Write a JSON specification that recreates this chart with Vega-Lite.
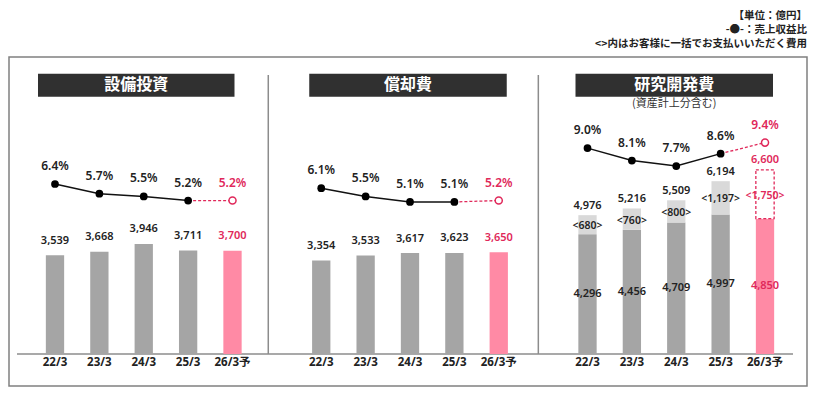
{
  "$schema": "https://vega.github.io/schema/vega-lite/v6.json",
  "width": 798,
  "height": 329,
  "autosize": {"type": "none"},
  "padding": {"left": 9, "top": 57, "right": 10, "bottom": 9},
  "background": "white",
  "config": {
    "view": {"stroke": "#808080", "strokeWidth": 1.5},
    "text": {"font": "'Noto Sans', 'Noto Sans CJK JP', sans-serif"}
  },
  "title": {
    "text": ["【単位：億円】", "-●-：売上収益比", "<>内はお客様に一括でお支払いいただく費用"],
    "anchor": "end",
    "align": "right",
    "frame": "group",
    "font": "'Noto Sans CJK JP', sans-serif",
    "fontSize": 10.5,
    "fontWeight": "bold",
    "color": "#222222",
    "lineHeight": 14,
    "offset": 8
  },
  "datasets": {
    "bars": [
      {"panel": "A", "year": "22/3", "key": "A|22/3", "base": 3539, "total": 3539, "pct": 0.064, "fc": false},
      {"panel": "A", "year": "23/3", "key": "A|23/3", "base": 3668, "total": 3668, "pct": 0.057, "fc": false},
      {"panel": "A", "year": "24/3", "key": "A|24/3", "base": 3946, "total": 3946, "pct": 0.055, "fc": false},
      {"panel": "A", "year": "25/3", "key": "A|25/3", "base": 3711, "total": 3711, "pct": 0.052, "fc": false},
      {"panel": "A", "year": "26/3予", "key": "A|26/3予", "base": 3700, "total": 3700, "pct": 0.052, "fc": true},
      {"panel": "B", "year": "22/3", "key": "B|22/3", "base": 3354, "total": 3354, "pct": 0.061, "fc": false},
      {"panel": "B", "year": "23/3", "key": "B|23/3", "base": 3533, "total": 3533, "pct": 0.055, "fc": false},
      {"panel": "B", "year": "24/3", "key": "B|24/3", "base": 3617, "total": 3617, "pct": 0.051, "fc": false},
      {"panel": "B", "year": "25/3", "key": "B|25/3", "base": 3623, "total": 3623, "pct": 0.051, "fc": false},
      {"panel": "B", "year": "26/3予", "key": "B|26/3予", "base": 3650, "total": 3650, "pct": 0.052, "fc": true},
      {"panel": "C", "year": "22/3", "key": "C|22/3", "base": 4296, "extra": 680, "total": 4976, "pct": 0.090, "fc": false},
      {"panel": "C", "year": "23/3", "key": "C|23/3", "base": 4456, "extra": 760, "total": 5216, "pct": 0.081, "fc": false},
      {"panel": "C", "year": "24/3", "key": "C|24/3", "base": 4709, "extra": 800, "total": 5509, "pct": 0.077, "fc": false},
      {"panel": "C", "year": "25/3", "key": "C|25/3", "base": 4997, "extra": 1197, "total": 6194, "pct": 0.086, "fc": false},
      {"panel": "C", "year": "26/3予", "key": "C|26/3予", "base": 4850, "extra": 1750, "total": 6600, "pct": 0.094, "fc": true}
    ],
    "heads": [
      {"panel": "A", "title": "設備投資", "first": "A|22/3", "last": "A|26/3予", "mid": "A|24/3", "sub": ""},
      {"panel": "B", "title": "償却費", "first": "B|22/3", "last": "B|26/3予", "mid": "B|24/3", "sub": ""},
      {"panel": "C", "title": "研究開発費", "first": "C|22/3", "last": "C|26/3予", "mid": "C|24/3", "sub": "(資産計上分含む)"}
    ],
    "seps": [{"key": "g1"}, {"key": "g2"}],
    "axisline": [{"from": "A|22/3", "to": "C|26/3予"}]
  },
  "resolve": {"scale": {"y": "independent"}},
  "layer": [
    {
      "layer": [
        {
          "data": {"name": "seps"},
          "transform": [{"filter": "datum.key == 'g1'"}],
          "mark": {"type": "rule", "color": "#8c8c8c", "strokeWidth": 1.5, "xOffset": -8.6},
          "encoding": {
            "x": {"field": "key", "type": "nominal", "title": null, "axis": null, "scale": {"domain": ["A|22/3","A|23/3","A|24/3","A|25/3","A|26/3予","g1","B|22/3","B|23/3","B|24/3","B|25/3","B|26/3予","g2","C|22/3","C|23/3","C|24/3","C|25/3","C|26/3予"], "paddingInner": 0.5876, "paddingOuter": 0.7853, "align": 0.5287}},
            "y": {"datum": 0, "type": "quantitative", "axis": null, "scale": {"domain": [-1147, 10645], "zero": false, "nice": false}},
            "y2": {"datum": 10000}
          }
        },
        {
          "data": {"name": "seps"},
          "transform": [{"filter": "datum.key == 'g2'"}],
          "mark": {"type": "rule", "color": "#8c8c8c", "strokeWidth": 1.5, "xOffset": -4.8},
          "encoding": {
            "x": {"field": "key", "type": "nominal", "title": null, "axis": null, "scale": {"domain": ["A|22/3","A|23/3","A|24/3","A|25/3","A|26/3予","g1","B|22/3","B|23/3","B|24/3","B|25/3","B|26/3予","g2","C|22/3","C|23/3","C|24/3","C|25/3","C|26/3予"], "paddingInner": 0.5876, "paddingOuter": 0.7853, "align": 0.5287}},
            "y": {"datum": 0, "type": "quantitative", "axis": null, "scale": {"domain": [-1147, 10645], "zero": false, "nice": false}},
            "y2": {"datum": 10000}
          }
        },
        {
          "data": {"name": "axisline"},
          "mark": {"type": "rule", "color": "#8c8c8c", "strokeWidth": 1.5, "xOffset": -38, "x2Offset": 28},
          "encoding": {
            "x": {"field": "from", "type": "nominal", "title": null, "axis": null, "scale": {"domain": ["A|22/3","A|23/3","A|24/3","A|25/3","A|26/3予","g1","B|22/3","B|23/3","B|24/3","B|25/3","B|26/3予","g2","C|22/3","C|23/3","C|24/3","C|25/3","C|26/3予"], "paddingInner": 0.5876, "paddingOuter": 0.7853, "align": 0.5287}},
            "x2": {"field": "to"},
            "y": {"datum": 0, "type": "quantitative", "axis": null, "scale": {"domain": [-1147, 10645], "zero": false, "nice": false}}
          }
        },
        {
          "data": {"name": "heads"},
          "transform": [{"filter": "datum.panel == 'A'"}],
          "mark": {"type": "rule", "color": "#303030", "strokeWidth": 23, "strokeCap": "butt", "xOffset": -17, "x2Offset": 2},
          "encoding": {
            "x": {"field": "first", "type": "nominal", "title": null, "axis": null, "scale": {"domain": ["A|22/3","A|23/3","A|24/3","A|25/3","A|26/3予","g1","B|22/3","B|23/3","B|24/3","B|25/3","B|26/3予","g2","C|22/3","C|23/3","C|24/3","C|25/3","C|26/3予"], "paddingInner": 0.5876, "paddingOuter": 0.7853, "align": 0.5287}},
            "x2": {"field": "last"},
            "y": {"datum": 9629, "type": "quantitative", "axis": null, "scale": {"domain": [-1147, 10645], "zero": false, "nice": false}}
          }
        },
        {
          "data": {"name": "heads"},
          "transform": [{"filter": "datum.panel != 'A'"}],
          "mark": {"type": "rule", "color": "#303030", "strokeWidth": 23, "strokeCap": "butt", "xOffset": -12, "x2Offset": 8},
          "encoding": {
            "x": {"field": "first", "type": "nominal", "title": null, "axis": null, "scale": {"domain": ["A|22/3","A|23/3","A|24/3","A|25/3","A|26/3予","g1","B|22/3","B|23/3","B|24/3","B|25/3","B|26/3予","g2","C|22/3","C|23/3","C|24/3","C|25/3","C|26/3予"], "paddingInner": 0.5876, "paddingOuter": 0.7853, "align": 0.5287}},
            "x2": {"field": "last"},
            "y": {"datum": 9629, "type": "quantitative", "axis": null, "scale": {"domain": [-1147, 10645], "zero": false, "nice": false}}
          }
        },
        {
          "data": {"name": "heads"},
          "transform": [{"filter": "datum.panel == 'A'"}],
          "mark": {"type": "text", "color": "#ffffff", "font": "'Noto Sans CJK JP', sans-serif", "fontSize": 16, "fontWeight": "bold", "baseline": "middle", "align": "center", "dx": -7.5},
          "encoding": {
            "x": {"field": "mid", "type": "nominal", "title": null, "axis": null, "scale": {"domain": ["A|22/3","A|23/3","A|24/3","A|25/3","A|26/3予","g1","B|22/3","B|23/3","B|24/3","B|25/3","B|26/3予","g2","C|22/3","C|23/3","C|24/3","C|25/3","C|26/3予"], "paddingInner": 0.5876, "paddingOuter": 0.7853, "align": 0.5287}},
            "y": {"datum": 9629, "type": "quantitative", "axis": null, "scale": {"domain": [-1147, 10645], "zero": false, "nice": false}},
            "text": {"field": "title"}
          }
        },
        {
          "data": {"name": "heads"},
          "transform": [{"filter": "datum.panel != 'A'"}],
          "mark": {"type": "text", "color": "#ffffff", "font": "'Noto Sans CJK JP', sans-serif", "fontSize": 16, "fontWeight": "bold", "baseline": "middle", "align": "center", "dx": -2},
          "encoding": {
            "x": {"field": "mid", "type": "nominal", "title": null, "axis": null, "scale": {"domain": ["A|22/3","A|23/3","A|24/3","A|25/3","A|26/3予","g1","B|22/3","B|23/3","B|24/3","B|25/3","B|26/3予","g2","C|22/3","C|23/3","C|24/3","C|25/3","C|26/3予"], "paddingInner": 0.5876, "paddingOuter": 0.7853, "align": 0.5287}},
            "y": {"datum": 9629, "type": "quantitative", "axis": null, "scale": {"domain": [-1147, 10645], "zero": false, "nice": false}},
            "text": {"field": "title"}
          }
        },
        {
          "data": {"name": "heads"},
          "transform": [{"filter": "datum.sub != ''"}],
          "mark": {"type": "text", "color": "#333333", "font": "'Noto Sans CJK JP', sans-serif", "fontSize": 11, "baseline": "middle", "align": "center", "dx": -2},
          "encoding": {
            "x": {"field": "mid", "type": "nominal", "title": null, "axis": null, "scale": {"domain": ["A|22/3","A|23/3","A|24/3","A|25/3","A|26/3予","g1","B|22/3","B|23/3","B|24/3","B|25/3","B|26/3予","g2","C|22/3","C|23/3","C|24/3","C|25/3","C|26/3予"], "paddingInner": 0.5876, "paddingOuter": 0.7853, "align": 0.5287}},
            "y": {"datum": 8961, "type": "quantitative", "axis": null, "scale": {"domain": [-1147, 10645], "zero": false, "nice": false}},
            "text": {"field": "sub"}
          }
        },
        {
          "data": {"name": "bars"},
          "mark": {"type": "bar"},
          "encoding": {
            "x": {"field": "key", "type": "nominal", "title": null, "axis": null, "scale": {"domain": ["A|22/3","A|23/3","A|24/3","A|25/3","A|26/3予","g1","B|22/3","B|23/3","B|24/3","B|25/3","B|26/3予","g2","C|22/3","C|23/3","C|24/3","C|25/3","C|26/3予"], "paddingInner": 0.5876, "paddingOuter": 0.7853, "align": 0.5287}},
            "y": {"field": "base", "type": "quantitative", "axis": null, "scale": {"domain": [-1147, 10645], "zero": false, "nice": false}},
            "y2": {"datum": 0},
            "fill": {"condition": {"test": "datum.fc", "value": "#ff8aa5"}, "value": "#a5a5a5"}
          }
        },
        {
          "data": {"name": "bars"},
          "mark": {"type": "text", "fontSize": 11.5, "fontWeight": "bold", "baseline": "middle", "align": "center", "color": "#222222"},
          "encoding": {
            "x": {"field": "key", "type": "nominal", "title": null, "axis": null, "scale": {"domain": ["A|22/3","A|23/3","A|24/3","A|25/3","A|26/3予","g1","B|22/3","B|23/3","B|24/3","B|25/3","B|26/3予","g2","C|22/3","C|23/3","C|24/3","C|25/3","C|26/3予"], "paddingInner": 0.5876, "paddingOuter": 0.7853, "align": 0.5287}},
            "y": {"datum": -310, "type": "quantitative", "axis": null, "scale": {"domain": [-1147, 10645], "zero": false, "nice": false}},
            "text": {"field": "year"}
          }
        },
        {
          "data": {"name": "bars"},
          "transform": [{"filter": "datum.panel == 'C' && !datum.fc"}],
          "mark": {"type": "bar", "fill": "#d9d9d9"},
          "encoding": {
            "x": {"field": "key", "type": "nominal", "title": null, "axis": null, "scale": {"domain": ["A|22/3","A|23/3","A|24/3","A|25/3","A|26/3予","g1","B|22/3","B|23/3","B|24/3","B|25/3","B|26/3予","g2","C|22/3","C|23/3","C|24/3","C|25/3","C|26/3予"], "paddingInner": 0.5876, "paddingOuter": 0.7853, "align": 0.5287}},
            "y": {"field": "total", "type": "quantitative", "axis": null, "scale": {"domain": [-1147, 10645], "zero": false, "nice": false}},
            "y2": {"field": "base"}
          }
        },
        {
          "data": {"name": "bars"},
          "transform": [{"filter": "datum.panel == 'C' && datum.fc"}],
          "mark": {"type": "bar", "fill": "#ffffff", "stroke": "#e0285a", "strokeWidth": 1.3, "strokeDash": [3, 2]},
          "encoding": {
            "x": {"field": "key", "type": "nominal", "title": null, "axis": null, "scale": {"domain": ["A|22/3","A|23/3","A|24/3","A|25/3","A|26/3予","g1","B|22/3","B|23/3","B|24/3","B|25/3","B|26/3予","g2","C|22/3","C|23/3","C|24/3","C|25/3","C|26/3予"], "paddingInner": 0.5876, "paddingOuter": 0.7853, "align": 0.5287}},
            "y": {"field": "total", "type": "quantitative", "axis": null, "scale": {"domain": [-1147, 10645], "zero": false, "nice": false}},
            "y2": {"field": "base"}
          }
        },
        {
          "data": {"name": "bars"},
          "transform": [{"filter": "datum.panel != 'C'"}],
          "mark": {"type": "text", "fontSize": 11, "fontWeight": 600, "baseline": "middle", "align": "center", "dy": -14.5},
          "encoding": {
            "x": {"field": "key", "type": "nominal", "title": null, "axis": null, "scale": {"domain": ["A|22/3","A|23/3","A|24/3","A|25/3","A|26/3予","g1","B|22/3","B|23/3","B|24/3","B|25/3","B|26/3予","g2","C|22/3","C|23/3","C|24/3","C|25/3","C|26/3予"], "paddingInner": 0.5876, "paddingOuter": 0.7853, "align": 0.5287}},
            "y": {"field": "total", "type": "quantitative", "axis": null, "scale": {"domain": [-1147, 10645], "zero": false, "nice": false}},
            "text": {"field": "total", "type": "quantitative", "format": ","},
            "fill": {"condition": {"test": "datum.fc", "value": "#e0285a"}, "value": "#222222"}
          }
        },
        {
          "data": {"name": "bars"},
          "transform": [{"filter": "datum.panel == 'C'"}],
          "mark": {"type": "text", "fontSize": 11, "fontWeight": 600, "baseline": "middle", "align": "center", "dy": -9.5},
          "encoding": {
            "x": {"field": "key", "type": "nominal", "title": null, "axis": null, "scale": {"domain": ["A|22/3","A|23/3","A|24/3","A|25/3","A|26/3予","g1","B|22/3","B|23/3","B|24/3","B|25/3","B|26/3予","g2","C|22/3","C|23/3","C|24/3","C|25/3","C|26/3予"], "paddingInner": 0.5876, "paddingOuter": 0.7853, "align": 0.5287}},
            "y": {"field": "total", "type": "quantitative", "axis": null, "scale": {"domain": [-1147, 10645], "zero": false, "nice": false}},
            "text": {"field": "total", "type": "quantitative", "format": ","},
            "fill": {"condition": {"test": "datum.fc", "value": "#e0285a"}, "value": "#222222"}
          }
        },
        {
          "data": {"name": "bars"},
          "transform": [
            {"filter": "datum.panel == 'C'"},
            {"calculate": "(datum.base + datum.total) / 2", "as": "mid"},
            {"calculate": "'<' + format(datum.extra, ',') + '>'", "as": "extraLabel"}
          ],
          "mark": {"type": "text", "fontSize": 10.5, "fontWeight": 600, "baseline": "middle", "align": "center", "dy": 1.5},
          "encoding": {
            "x": {"field": "key", "type": "nominal", "title": null, "axis": null, "scale": {"domain": ["A|22/3","A|23/3","A|24/3","A|25/3","A|26/3予","g1","B|22/3","B|23/3","B|24/3","B|25/3","B|26/3予","g2","C|22/3","C|23/3","C|24/3","C|25/3","C|26/3予"], "paddingInner": 0.5876, "paddingOuter": 0.7853, "align": 0.5287}},
            "y": {"field": "mid", "type": "quantitative", "axis": null, "scale": {"domain": [-1147, 10645], "zero": false, "nice": false}},
            "text": {"field": "extraLabel"},
            "fill": {"condition": {"test": "datum.fc", "value": "#e0285a"}, "value": "#222222"}
          }
        },
        {
          "data": {"name": "bars"},
          "transform": [
            {"filter": "datum.panel == 'C'"},
            {"calculate": "datum.base / 2", "as": "half"}
          ],
          "mark": {"type": "text", "fontSize": 11, "fontWeight": 600, "baseline": "middle", "align": "center"},
          "encoding": {
            "x": {"field": "key", "type": "nominal", "title": null, "axis": null, "scale": {"domain": ["A|22/3","A|23/3","A|24/3","A|25/3","A|26/3予","g1","B|22/3","B|23/3","B|24/3","B|25/3","B|26/3予","g2","C|22/3","C|23/3","C|24/3","C|25/3","C|26/3予"], "paddingInner": 0.5876, "paddingOuter": 0.7853, "align": 0.5287}},
            "y": {"field": "half", "type": "quantitative", "axis": null, "scale": {"domain": [-1147, 10645], "zero": false, "nice": false}},
            "text": {"field": "base", "type": "quantitative", "format": ","},
            "fill": {"condition": {"test": "datum.fc", "value": "#e0285a"}, "value": "#222222"}
          }
        }
      ]
    },
    {
      "layer": [
        {
          "data": {"name": "bars"},
          "transform": [{"filter": "!datum.fc"}],
          "mark": {"type": "line", "color": "#111111", "strokeWidth": 1.5},
          "encoding": {
            "x": {"field": "key", "type": "nominal", "title": null, "axis": null, "scale": {"domain": ["A|22/3","A|23/3","A|24/3","A|25/3","A|26/3予","g1","B|22/3","B|23/3","B|24/3","B|25/3","B|26/3予","g2","C|22/3","C|23/3","C|24/3","C|25/3","C|26/3予"], "paddingInner": 0.5876, "paddingOuter": 0.7853, "align": 0.5287}},
            "y": {"field": "pct", "type": "quantitative", "axis": null, "scale": {"domain": [-0.08238, 0.15603], "zero": false, "nice": false}},
            "detail": {"field": "panel"}
          }
        },
        {
          "data": {"name": "bars"},
          "transform": [{"filter": "datum.year == '25/3' || datum.fc"}],
          "mark": {"type": "line", "color": "#e0285a", "strokeWidth": 1.3, "strokeDash": [3, 2]},
          "encoding": {
            "x": {"field": "key", "type": "nominal", "title": null, "axis": null, "scale": {"domain": ["A|22/3","A|23/3","A|24/3","A|25/3","A|26/3予","g1","B|22/3","B|23/3","B|24/3","B|25/3","B|26/3予","g2","C|22/3","C|23/3","C|24/3","C|25/3","C|26/3予"], "paddingInner": 0.5876, "paddingOuter": 0.7853, "align": 0.5287}},
            "y": {"field": "pct", "type": "quantitative", "axis": null, "scale": {"domain": [-0.08238, 0.15603], "zero": false, "nice": false}},
            "detail": {"field": "panel"}
          }
        },
        {
          "data": {"name": "bars"},
          "transform": [{"filter": "!datum.fc"}],
          "mark": {"type": "circle", "color": "#000000", "size": 60, "opacity": 1},
          "encoding": {
            "x": {"field": "key", "type": "nominal", "title": null, "axis": null, "scale": {"domain": ["A|22/3","A|23/3","A|24/3","A|25/3","A|26/3予","g1","B|22/3","B|23/3","B|24/3","B|25/3","B|26/3予","g2","C|22/3","C|23/3","C|24/3","C|25/3","C|26/3予"], "paddingInner": 0.5876, "paddingOuter": 0.7853, "align": 0.5287}},
            "y": {"field": "pct", "type": "quantitative", "axis": null, "scale": {"domain": [-0.08238, 0.15603], "zero": false, "nice": false}}
          }
        },
        {
          "data": {"name": "bars"},
          "transform": [{"filter": "datum.fc"}],
          "mark": {"type": "circle", "fill": "#ffffff", "stroke": "#e0285a", "strokeWidth": 1.5, "size": 50, "opacity": 1},
          "encoding": {
            "x": {"field": "key", "type": "nominal", "title": null, "axis": null, "scale": {"domain": ["A|22/3","A|23/3","A|24/3","A|25/3","A|26/3予","g1","B|22/3","B|23/3","B|24/3","B|25/3","B|26/3予","g2","C|22/3","C|23/3","C|24/3","C|25/3","C|26/3予"], "paddingInner": 0.5876, "paddingOuter": 0.7853, "align": 0.5287}},
            "y": {"field": "pct", "type": "quantitative", "axis": null, "scale": {"domain": [-0.08238, 0.15603], "zero": false, "nice": false}}
          }
        },
        {
          "data": {"name": "bars"},
          "mark": {"type": "text", "fontSize": 12, "fontWeight": 600, "baseline": "middle", "align": "center", "dy": -18},
          "encoding": {
            "x": {"field": "key", "type": "nominal", "title": null, "axis": null, "scale": {"domain": ["A|22/3","A|23/3","A|24/3","A|25/3","A|26/3予","g1","B|22/3","B|23/3","B|24/3","B|25/3","B|26/3予","g2","C|22/3","C|23/3","C|24/3","C|25/3","C|26/3予"], "paddingInner": 0.5876, "paddingOuter": 0.7853, "align": 0.5287}},
            "y": {"field": "pct", "type": "quantitative", "axis": null, "scale": {"domain": [-0.08238, 0.15603], "zero": false, "nice": false}},
            "text": {"field": "pct", "type": "quantitative", "format": ".1%"},
            "fill": {"condition": {"test": "datum.fc", "value": "#e0285a"}, "value": "#222222"}
          }
        }
      ]
    }
  ]
}
